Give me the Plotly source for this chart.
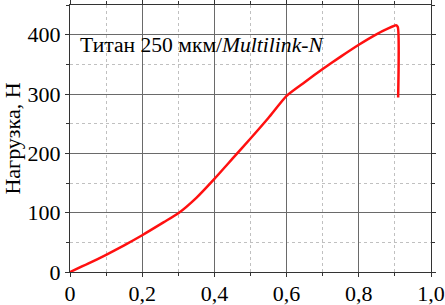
import plotly.graph_objects as go

# Data
strain = [0, 0.05, 0.1, 0.15, 0.2, 0.26, 0.3, 0.35, 0.4, 0.45, 0.5, 0.55, 0.6,
          0.65, 0.7, 0.75, 0.8, 0.85, 0.88, 0.903, 0.908, 0.909]
load = [0, 14, 29, 45, 62, 84, 99, 125, 157, 191, 225, 260, 297,
        320, 342, 363, 383, 401, 410, 416, 413, 294]

x_tickvals = [0, 0.2, 0.4, 0.6, 0.8, 1.0]
x_ticktext = ["0", "0,2", "0,4", "0,6", "0,8", "1,0"]
y_tickvals = [0, 100, 200, 300, 400]
y_ticktext = ["0", "100", "200", "300", "400"]

label_text = "Титан 250 мкм/<i>Multilink-N</i>"
y_title = "Нагрузка, Н"

FONT = "Liberation Serif, Times New Roman, serif"
FRAME = "#333333"

fig = go.Figure()
fig.add_trace(go.Scatter(x=strain, y=load, mode="lines",
                         line=dict(color="#ff1010", width=2.5, shape="spline", smoothing=0.6),
                         showlegend=False, hoverinfo="skip"))

axis_common = dict(
    showline=True, linecolor=FRAME, linewidth=1.3, mirror="ticks",
    ticks="outside", ticklen=4, tickcolor=FRAME, tickwidth=1,
    showgrid=True, gridcolor="#6a6a6a", gridwidth=1,
    zeroline=False, automargin=False,
    tickfont=dict(family=FONT, size=22, color="black"),
)

fig.update_xaxes(range=[0, 1.0], tickvals=x_tickvals, ticktext=x_ticktext,
                 ticklabelstandoff=-3,
                 minor=dict(dtick=0.1, tick0=0, showgrid=True, gridcolor="#c0c0c0",
                            griddash="dot", ticks="outside", ticklen=3, tickcolor=FRAME),
                 **axis_common)
fig.update_yaxes(range=[0, 450], tickvals=y_tickvals, ticktext=y_ticktext,
                 minor=dict(dtick=50, tick0=0, showgrid=True, gridcolor="#c0c0c0",
                            griddash="dot", ticks="outside", ticklen=3, tickcolor=FRAME),
                 title=dict(text=y_title, font=dict(family=FONT, size=22, color="black"),
                            standoff=4),
                 **axis_common)

fig.add_annotation(x=0.022, y=383, xref="x", yref="y", text=label_text,
                   showarrow=False, xanchor="left", yanchor="middle",
                   font=dict(family=FONT, size=21.6, color="black"))

fig.update_layout(
    width=445, height=305,
    margin=dict(l=70, r=14, t=5, b=33),
    plot_bgcolor="white", paper_bgcolor="white",
)

fig.write_html("out.html",
               config={"displayModeBar": False},
               post_script="document.body.style.margin='0px';document.body.style.overflow='hidden';")
